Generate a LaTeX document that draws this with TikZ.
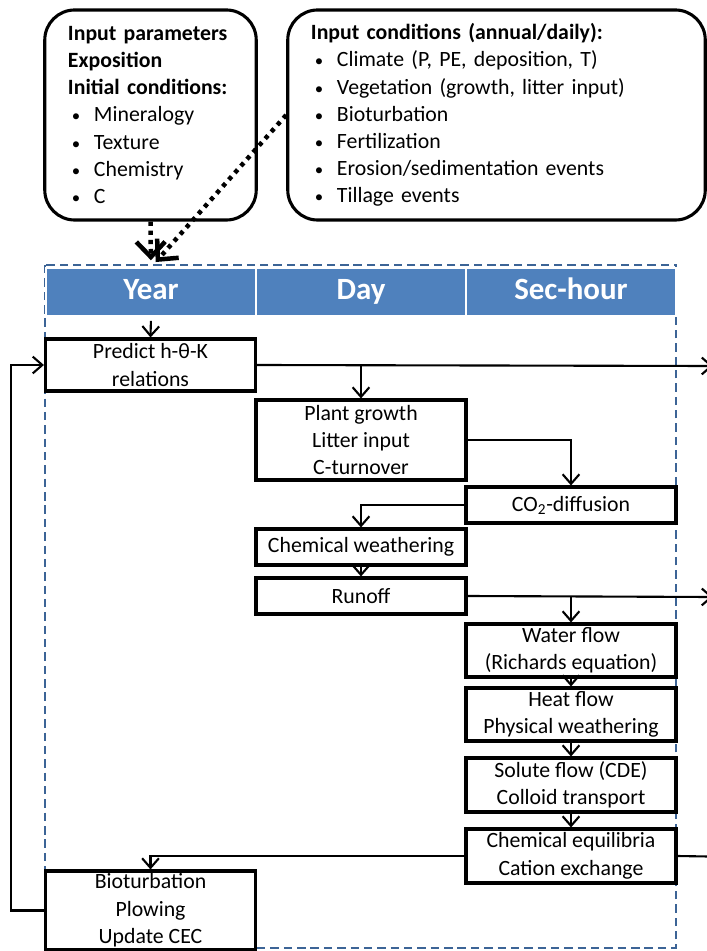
\documentclass[tikz,border=0pt]{standalone}
\usepackage{fontspec}
\setmainfont{Carlito}
\usetikzlibrary{arrows.meta}
\usetikzlibrary{positioning}
\definecolor{headblue}{HTML}{4F81BD}
\definecolor{frameblue}{HTML}{3C6496}
\tikzstyle{procbox}=[draw, fill=white, line width=2.2pt, minimum width=5.25cm, align=center, inner sep=0pt, font=\fontsize{15.5}{19.5}\selectfont]
\tikzstyle{inbox}=[draw, line width=2.2pt, rounded corners=0.75cm, minimum height=5.25cm, align=left, inner xsep=0.58cm, font=\fontsize{15.5}{19.3}\selectfont]
\tikzstyle{headcell}=[fill=headblue, draw=white, line width=1pt, minimum width=5.25cm, minimum height=1.2cm, text height=0.5cm, text depth=0.12cm, text=white, font=\fontsize{22}{26}\selectfont\bfseries]
\tikzstyle{edge}=[draw, line width=1.5pt, ->]
\tikzstyle{dotedge}=[draw, line width=3.2pt, dash pattern=on 3pt off 3.5pt, -{Straight Barb[length=0.38cm,width=0.72cm,line width=3.2pt]}]
\newcommand{\bul}{\makebox[0.65cm][l]{\hspace{0.1cm}{\fontsize{12}{12}\selectfont\textbullet}}}

\begin{document}
\begin{tikzpicture}[x=0.025cm, y=-0.025cm, >={Straight Barb[length=0.24cm,width=0.42cm,line width=1.5pt]}]
    \useasboundingbox (0,0) rectangle (707,951);
    \clip (0,0) rectangle (707,951);

    % the input boxes on top
    \node[inbox, text width=4.125cm] (inparam) at (150.5,115)
        {\textbf{Input parameters}\\ \textbf{Exposition}\\ \textbf{Initial conditions:}\\
         \bul Mineralogy\\ \bul Texture\\ \bul Chemistry\\ \bul C};
    \node[inbox, text width=9.275cm] (incond) at (496.5,115)
        {\textbf{Input conditions (annual/daily):}\\
         \bul Climate (P, PE, deposition, T)\\ \bul Vegetation (growth, litter input)\\
         \bul Bioturbation\\ \bul Fertilization\\ \bul Erosion/sedimentation events\\
         \bul Tillage events};

    % dashed frame and time scale header
    \draw[frameblue, line width=2pt, dash pattern=on 6pt off 3.5pt] (45,265) rectangle (676,948);
    \foreach \pos/\name/\label in {{(151,292)/year/Year}, {(361,292)/day/Day}, {(571,292)/sechour/Sec-hour}}
        \node[headcell] (\name) at \pos {\label};

    % process boxes
    \foreach \pos/\name/\h/\label in {{(150.5,365)/predict/1.3cm/{Predict h-θ-K\\relations}},
            {(361,440)/plant/2cm/{Plant growth\\Litter input\\C-turnover}},
            {(571,505)/codiff/0.9cm/{CO\textsubscript{2}-diffusion}},
            {(361,547)/chemw/0.9cm/{Chemical weathering}},
            {(361,596)/runoff/0.9cm/{Runoff}},
            {(571,650.5)/water/1.325cm/{Water flow\\(Richards equation)}},
            {(571,714.5)/heat/1.325cm/{Heat flow\\Physical weathering}},
            {(571,785)/solute/1.35cm/{Solute flow (CDE)\\Colloid transport}},
            {(571,856)/chemeq/1.35cm/{Chemical equilibria\\Cation exchange}},
            {(150.5,910.5)/bioturb/1.975cm/{Bioturbation\\Plowing\\Update CEC}}}
        \node[procbox, minimum height=\h] (\name) at \pos {\label};

    % free ends past the right border
    \coordinate (outA) at (713,366);
    \coordinate (outB) at (713,597);
    \coordinate (outC) at (740,857);

    % inputs into the model
    \draw[dotedge, shorten >=5pt] (inparam.south) -- (year.north);
    \draw[dotedge, shorten >=5pt] (incond.west) -- (year.north);

    % connect the processes
    \path[edge, shorten <=3pt] (year.south) -- (predict.north);
    \path[edge] (predict.east) -- (outA);
    \path[edge] (predict.east -| plant.north) -- (plant.north);
    \path[edge] (plant.east) -| (codiff.north);
    \path[edge] (codiff.west) -| (chemw.north);
    \path[edge] (chemw) -- (runoff);
    \path[edge] (runoff.east) -- (outB);
    \path[edge] (runoff.east -| water.north) -- (water.north);
    \foreach \source/\dest in {water/heat, heat/solute, solute/chemeq}
        \path[edge] (\source) -- (\dest);
    \path[edge] (chemeq.west) -| (bioturb.north);
    \path[edge] (chemeq.east) -- (outC);
    \path[edge] (bioturb.west) -- ++(-33,0) |- (predict.west);
\end{tikzpicture}
\end{document}
